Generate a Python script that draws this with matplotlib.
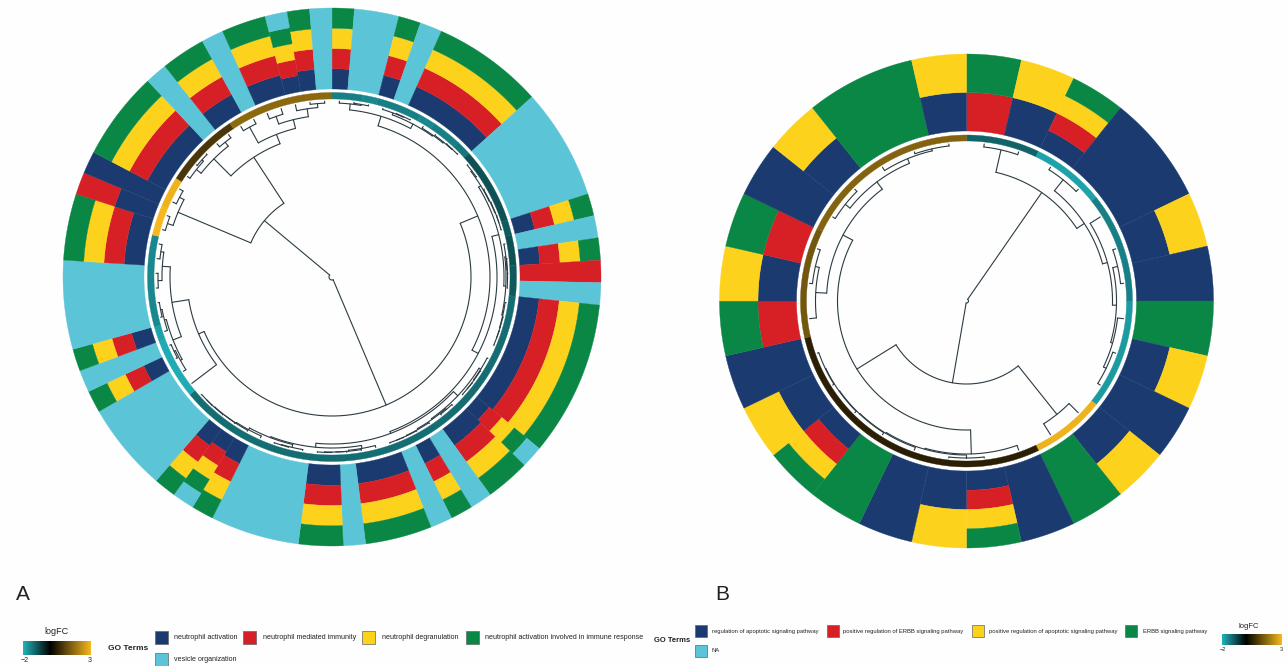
import numpy as np
import matplotlib
matplotlib.use("Agg")
import matplotlib.pyplot as plt
from matplotlib.colors import LinearSegmentedColormap, Normalize, to_hex
from matplotlib.cm import ScalarMappable
from matplotlib.patches import Rectangle

plt.rcParams['font.family'] = ['Liberation Sans', 'DejaVu Sans']

W, H = 1287, 666
TERM_COLORS = {'N': '#1A3A70', 'R': '#D71F26', 'Y': '#FDD21C', 'G': '#0A8745', 'V': '#5BC4D6'}

# --- data: stack of GO terms per gene, clockwise from 12 o'clock ---
genes_a = ['NRYG', 'V', 'V', 'NRYG', 'V', 'NRYG', 'NRYG', 'NRYG', 'NRYG', 'NRYG',
           'V', 'V', 'V', 'V', 'V', 'NRYG', 'V', 'NRYG', 'R', 'V',
           'NRYG', 'NRYG', 'NRYG', 'NRYG', 'NRYG', 'NRYG', 'NRYG', 'NRYGV', 'NRYG', 'NRYG',
           'V', 'NRYG', 'V', 'NRYG', 'NRYG', 'NRYG', 'V', 'NRYG', 'NRYG', 'V',
           'V', 'V', 'V', 'NRYG', 'NRYGV', 'NRYG', 'V', 'V', 'V', 'V',
           'NRYG', 'V', 'NRYG', 'V', 'V', 'V', 'V', 'NRYG', 'NRYG', 'NRYG',
           'NR', 'N', 'NRYG', 'NRYG', 'NRYG', 'NRYG', 'V', 'NRYG', 'NRYG', 'V',
           'NRYG', 'NRYG', 'NRYGV', 'NRYG', 'V']
logfc_a = [-1.4, -1.4, -1.5, -1.4, -1.4, -1.4, -1.5, -1.4, -1.4, -1.3,
           -0.9, -0.9, -0.9, -0.9, -0.9, -1.0, -0.9, -0.9, -1.0, -1.0,
           -1.2, -1.2, -1.2, -1.2, -1.2, -1.2, -1.2, -1.2, -1.2, -1.2,
           -1.2, -1.2, -1.2, -1.2, -1.2, -1.2, -1.2, -1.2, -1.2, -1.2,
           -1.2, -1.2, -1.2, -1.2, -1.2, -1.2, -1.2, -1.2, -1.9, -1.9,
           -1.9, -1.9, -1.8, -1.5, -1.5, -1.5, -1.5, -1.5, -1.5, 3.0,
           3.0, 2.9, 2.9, 0.9, 0.9, 0.9, 0.9, 0.9, 1.7, 1.7,
           1.7, 1.7, 1.7, 1.7, 1.7]
genes_b = ['RG', 'NY', 'NRYG', 'N', 'N', 'NY', 'N', 'G', 'NY', 'N',
           'NY', 'G', 'N', 'NRYG', 'NY', 'N', 'G', 'NRYG', 'NY', 'N',
           'RG', 'NY', 'RG', 'N', 'NY', 'G', 'G', 'NY']
logfc_b = [-1.1, -1.1, -1.8, -1.8, -1.4, -1.4, -1.4, -1.7, -1.7, -1.7,
           2.9, 2.9, 0.5, 0.5, 0.5, 0.5, 0.5, 0.5, 0.5, 0.5,
           1.4, 1.4, 1.4, 1.6, 1.6, 1.6, 1.6, 1.6]

# dendrograms: (merge radius, left, right); an integer is a gene
tree_a = (3,
  (139,
    (158,
      (168,
        (174, 0, (175, 1, 2)),
        (173, (175, 3, (175.5, 4, 5)), (174, 6, (175, 7, (175.5, 8, 9))))),
      (165,
        (172,
          (174.5, (175.5, 10, 11), (175, 12, (175.5, 13, (175.5, 14, 15)))),
          (174, (175, 16, (175.5, 17, (175.5, 18, 19))), (175, 20, (175.5, 21, (175.5, 22, 23))))),
        (167,
          (173, (175, 24, (175.5, 25, (175.5, 26, 27))),
                (174, (175, 28, 29), (175, 30, (175.5, 31, (175.5, 32, 33))))),
          (171, (174, 34, (175, 35, (175, 36, (175.5, 37, 38)))),
                (172, (175, 39, (175.5, 40, 41)),
                      (174, 42, (175, 43, (175, 44, (175.5, 45, (175.5, 46, 47)))))))))),
    (145, 48,
      (162,
        (171, (173, 49, (174.5, 50, 51)), (173, 52, (174.5, 53, 54))),
        (170, (174, 55, 56), (173, 57, 58))))),
  (88,
    (167, (173, 59, 60), (172, 61, 62)),
    (143,
      (167, (173, 63, (175, 64, 65)), (172, 66, 67)),
      (153, (171, 68, 69), (162, (170, 70, 71), (170, 72, (174, 73, 74)))))))
tree_b = (2,
  (132,
    (155, 0, 1),
    (141, (155, 2, 3), (146, 4, (150, (155, 5, 6), (152, 7, (155, 8, 9)))))),
  (83,
    (145, 10, 11),
    (129,
      (153, 12, (154, (157, 13, 14), (155, 15, (155.5, 16, (156, 17, (156.5, 18, 19)))))),
      (140,
        (151, 20, (155, 21, 22)),
        (149, (155, 23, 24), (154, 25, (156, 26, 27)))))))

legend_a = [('N', 'neutrophil activation'), ('R', 'neutrophil mediated immunity'),
            ('Y', 'neutrophil degranulation'), ('G', 'neutrophil activation involved in immune response'),
            ('V', 'vesicle organization')]
legend_b = [('N', 'regulation of apoptotic signaling pathway'), ('R', 'positive regulation of ERBB signaling pathway'),
            ('Y', 'positive regulation of apoptotic signaling pathway'), ('G', 'ERBB signaling pathway'),
            ('V', 'NA')]

cmap = LinearSegmentedColormap.from_list('logfc', [(0, '#20B4BC'), (0.4, '#000000'), (1, '#F6B81E')])
norm = Normalize(-2, 3)

fig = plt.figure(figsize=(W / 100, H / 100), dpi=100, facecolor='#FEFEFE')


def draw_tree(ax, node, width, r_leaf):
    if not isinstance(node, tuple):
        return np.radians((node + 0.5) * width), r_leaf
    r, left, right = node
    children = [draw_tree(ax, c, width, r_leaf) for c in (left, right)]
    for th, rc in children:
        ax.plot([th, th], [r, rc], color='#2B3B42', lw=0.8, solid_capstyle='round')
    t0, t1 = children[0][0], children[1][0]
    ax.plot(np.linspace(t0, t1, 80), np.full(80, r), color='#2B3B42', lw=0.8, solid_capstyle='round')
    return (t0 + t1) / 2, r


def sector(ax, a0, a1, r0, r1, color):
    th = np.radians(np.linspace(a0, a1, 90))
    ax.fill(np.r_[th, th[::-1]], np.r_[np.full(90, r0), np.full(90, r1)],
            facecolor=color, edgecolor=color, linewidth=0.25)


def circle(cx, cy, genes, logfc, tree, r_heat, r_out, r_ring, r_leaf):
    m = r_out + 3
    ax = fig.add_axes([(cx - m) / W, 1 - (cy + m) / H, 2 * m / W, 2 * m / H], projection='polar')
    ax.set_theta_zero_location('N')
    ax.set_theta_direction(-1)
    ax.set_ylim(0, m)
    ax.set_axis_off()
    width = 360 / len(genes)
    # merge neighbouring genes' equal cells so that no seams show
    cells = []
    for i, terms in enumerate(genes):
        h = (r_out - r_heat) / len(terms)
        for k, t in enumerate(terms):
            key = (round(r_heat + k * h, 3), round(r_heat + (k + 1) * h, 3), TERM_COLORS[t])
            for c in cells:
                if c[0] == key and c[2] == i:
                    c[2] = i + 1
                    break
            else:
                cells.append([key, i, i + 1])
    for key, i0, i1 in cells:
        sector(ax, i0 * width, i1 * width, key[0], key[1], key[2])
    start = 0
    for i in range(1, len(genes) + 1):
        if i == len(genes) or logfc[i] != logfc[start]:
            sector(ax, start * width, i * width, r_ring[0], r_ring[1], to_hex(cmap(norm(logfc[start]))))
            start = i
    draw_tree(ax, tree, width, r_leaf)
    ax.set_ylim(0, m)


circle(332, 277, genes_a, logfc_a, tree_a, 188, 269, (178, 184.5), 176)
circle(966.5, 301, genes_b, logfc_b, tree_b, 170, 247, (160, 166), 158)


def txt(x, y, s, size, **kw):
    fig.text(x / W, 1 - y / H, s, fontsize=size, va='center', color=kw.pop('color', '#222222'), **kw)


def square(x, y, size, key):
    fig.add_artist(Rectangle((x / W, 1 - (y + size) / H), size / W, size / H, transform=fig.transFigure,
                             facecolor=TERM_COLORS[key], edgecolor='#666666', linewidth=0.5))


def colorbar(x0, x1, y0, y1, label_x, label_y, size):
    cax = fig.add_axes([x0 / W, 1 - y1 / H, (x1 - x0) / W, (y1 - y0) / H])
    cb = fig.colorbar(ScalarMappable(norm=norm, cmap=cmap), cax=cax, orientation='horizontal')
    cb.outline.set_visible(False)
    cb.set_ticks([-1.9, 2.9], labels=['\u22122', '3'])
    cb.ax.tick_params(length=0, labelsize=size - 1.5, pad=1.5, colors='#222222')
    txt(label_x, label_y, 'logFC', size, ha='center')


txt(16, 594, 'A', 15)
txt(715, 594, 'B', 15)

# legend A
txt(108, 649, 'GO Terms', 6, fontweight='bold')
for (key, label), (sx, sy, tx) in zip(legend_a, [(155, 631, 174), (243, 631, 263), (362, 631, 382),
                                                 (466, 631, 485), (155, 653, 174)]):
    square(sx, sy, 13, key)
    txt(tx, sy + 6.5, label, 5.1)
colorbar(23, 91, 641, 655, 56, 632, 6.5)

# legend B
txt(654, 640, 'GO Terms', 5.5, fontweight='bold')
for (key, label), (sx, sy, tx) in zip(legend_b, [(695, 625, 712), (827, 625, 843), (972, 625, 989),
                                                 (1125, 625, 1143), (695, 645, 712)]):
    square(sx, sy, 11.5, key)
    txt(tx, sy + 6, label, 4.2)
colorbar(1222, 1282, 634, 645, 1249, 626, 5.5)

fig.savefig('out.png', dpi=100, facecolor=fig.get_facecolor())
